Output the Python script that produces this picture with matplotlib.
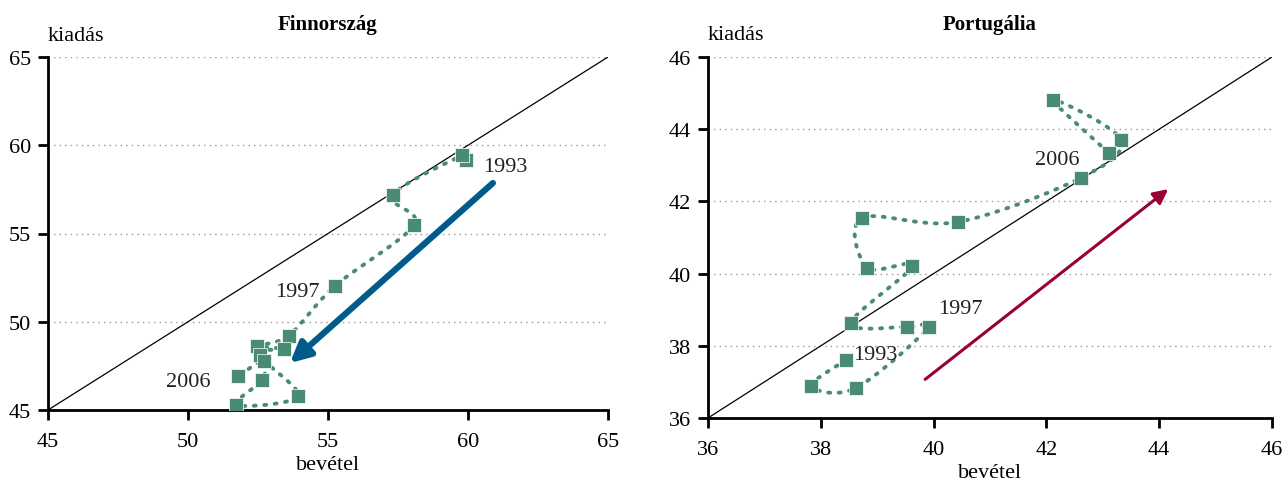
import numpy as np
import matplotlib
matplotlib.use("Agg")
import matplotlib.pyplot as plt

plt.rcParams['font.family'] = ['Liberation Serif', 'DejaVu Serif']

# ---- data ----
years = list(range(1993, 2007))
fin_rev = [59.93, 59.79, 57.32, 58.07, 55.25, 53.60, 52.46, 53.43, 52.57, 53.93, 51.71, 52.64, 52.71, 51.80]
fin_exp = [59.16, 59.42, 57.18, 55.48, 52.03, 49.22, 48.63, 48.46, 48.10, 45.79, 45.28, 46.70, 47.80, 46.93]
por_rev = [38.45, 37.83, 38.62, 39.92, 39.53, 38.54, 39.62, 38.82, 38.73, 40.43, 42.61, 43.32, 42.12, 43.11]
por_exp = [37.61, 36.89, 36.83, 38.52, 38.52, 38.63, 40.21, 40.16, 41.54, 41.43, 42.65, 43.70, 44.81, 43.34]

fin_ticks = [45, 50, 55, 60, 65]
por_ticks = [36, 38, 40, 42, 44, 46]

fin_labels = {"1993": (61.32, 58.82), "1997": (53.89, 51.69), "2006": (50.0, 46.59)}
por_labels = {"2006": (42.19, 43.17), "1997": (40.47, 39.02), "1993": (38.96, 37.75)}

fin_arrow = ((60.89, 57.86), (53.64, 47.66))
por_arrow = ((39.85, 37.07), (44.16, 42.34))

GREEN = '#4a8c73'


def smooth(xs, ys, n=20):
    """Catmull-Rom rendering of the path through the points (like a smoothed line)."""
    p = np.column_stack([xs, ys])
    p = np.vstack([p[0], p, p[-1]])
    out = []
    t = np.linspace(0, 1, n)
    for i in range(1, len(p) - 2):
        p0, p1, p2, p3 = p[i - 1], p[i], p[i + 1], p[i + 2]
        seg = 0.5 * ((2 * p1)[None, :] + (-p0 + p2)[None, :] * t[:, None]
                     + (2 * p0 - 5 * p1 + 4 * p2 - p3)[None, :] * (t ** 2)[:, None]
                     + (-p0 + 3 * p1 - 3 * p2 + p3)[None, :] * (t ** 3)[:, None])
        out.append(seg if i == 1 else seg[1:])
    out = np.vstack(out)
    return out[:, 0], out[:, 1]


fig = plt.figure(figsize=(12.85, 4.81), dpi=100)
ax1 = fig.add_axes([48 / 1285, 1 - 411 / 481, 560 / 1285, 353 / 481])
ax2 = fig.add_axes([708 / 1285, 1 - 419 / 481, 564 / 1285, 361 / 481])


def style(ax, ticks, title):
    lo, hi = ticks[0], ticks[-1]
    ax.set_xlim(lo, hi)
    ax.set_ylim(lo, hi)
    ax.set_xticks(ticks)
    ax.set_yticks(ticks)
    for t in ticks[1:]:
        ax.axhline(t, color='#9a9a9a', lw=1.0, ls=(0, (1, 3)), zorder=0)
    ax.plot([lo, hi], [lo, hi], color='black', lw=0.9, zorder=1)
    for s in ['top', 'right']:
        ax.spines[s].set_visible(False)
    for s in ['left', 'bottom']:
        ax.spines[s].set_linewidth(2.0)
    ax.tick_params(direction='out', length=7, width=2, labelsize=16)
    ax.tick_params(axis='x', pad=9)
    ax.tick_params(axis='y', pad=5)
    ax.set_title(title, fontsize=15, fontweight='bold', pad=20)
    ax.text(0.0, 1.035, 'kiadás', transform=ax.transAxes, fontsize=16, ha='left', va='bottom')
    ax.set_xlabel('bevétel', fontsize=16, labelpad=3)


style(ax1, fin_ticks, 'Finnország')
style(ax2, por_ticks, 'Portugália')

for ax, xs, ys, labels, arrow, acol, alw, ms in [
        (ax1, fin_rev, fin_exp, fin_labels, fin_arrow, '#005b8a', 4.5, 30),
        (ax2, por_rev, por_exp, por_labels, por_arrow, '#990033', 2.2, 22)]:
    sx, sy = smooth(xs, ys)
    ax.plot(sx, sy, color=GREEN, lw=2.8, ls=(0, (0.5, 2.2)), dash_capstyle='round', zorder=2)
    ax.plot(xs, ys, ls='none', marker='s', ms=10, color=GREEN, mec='white', mew=0.5, zorder=3)
    for txt, (x, y) in labels.items():
        ax.text(x, y, txt, fontsize=16, ha='center', va='center', color='#222222', zorder=4)
    (x0, y0), (x1, y1) = arrow
    ax.annotate('', xy=(x1, y1), xytext=(x0, y0),
                arrowprops=dict(arrowstyle='-|>', color=acol, lw=alw,
                                mutation_scale=ms, shrinkA=0, shrinkB=0), zorder=4)

fig.savefig('out.png', dpi=100)
